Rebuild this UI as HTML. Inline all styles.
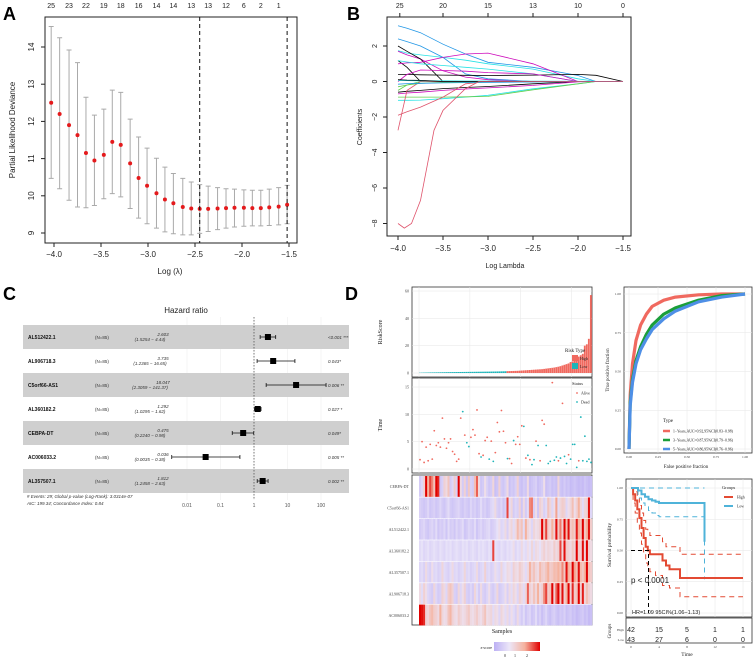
<!DOCTYPE html>
<html><head><meta charset="utf-8"><style>
html,body{margin:0;padding:0;background:#fff;}
svg{display:block;font-family:"Liberation Sans",sans-serif;}
.serif{font-family:"Liberation Serif",serif;}
</style></head><body>
<svg id="fig" width="753" height="659" viewBox="0 0 753 659" xmlns="http://www.w3.org/2000/svg">
<rect width="753" height="659" fill="#fff"/>
<g id="gA"></g>
<g id="gB"></g>
<g id="gC"></g>
<g id="gD"></g>
</svg>
<script>
// ---------- Panel A data ----------
const lambdaA=[-4.03,-3.94,-3.84,-3.75,-3.66,-3.57,-3.47,-3.38,-3.29,-3.19,-3.10,-3.01,-2.91,-2.82,-2.73,-2.63,-2.54,-2.45,-2.36,-2.26,-2.17,-2.08,-1.98,-1.89,-1.80,-1.71,-1.61,-1.52];
const devA=[12.5,12.2,11.9,11.63,11.15,10.95,11.1,11.45,11.37,10.87,10.48,10.27,10.07,9.9,9.8,9.7,9.66,9.65,9.65,9.66,9.67,9.68,9.68,9.67,9.67,9.69,9.71,9.76];
const upA=[14.55,14.25,13.92,13.58,12.65,12.17,12.33,12.84,12.78,12.06,11.58,11.28,11.01,10.77,10.6,10.47,10.37,10.3,10.26,10.22,10.19,10.18,10.16,10.15,10.15,10.18,10.22,10.28];
const loA=[10.47,10.19,9.88,9.7,9.68,9.74,9.92,10.06,9.97,9.66,9.4,9.25,9.13,9.03,8.98,8.95,8.95,8.99,9.04,9.09,9.13,9.16,9.18,9.19,9.19,9.2,9.22,9.25];
const topCountsA=[25,23,22,19,18,16,14,14,13,13,12,6,2,1];
const xTicksA=[-4.0,-3.5,-3.0,-2.5,-2.0,-1.5];
const yTicksA=[9,10,11,12,13,14];
const dashA=[-2.45,-1.52];
// ---------- Panel B data ----------
const gridB=[-4.0,-3.9,-3.75,-3.5,-3.25,-3.0,-2.5,-2.0,-1.8,-1.5];
const coefPaths=[
[3.14,3.0,2.75,2.1,1.55,1.08,0.8,0.34,0,0],
[2.4,2.25,2.0,1.36,0.43,0.15,0,0,0,0],
[1.74,1.6,1.5,1.36,1.2,1.0,0.7,0.15,0,0],
[1.7,1.5,1.27,0.6,0.25,0.1,0,0,0,0],
[2.0,1.7,1.27,0,0,0,0,0,0,0],
[1.18,0.8,0,0,0,0,0,0,0,0],
[1.0,1.05,1.08,1.36,1.55,1.6,1.0,0,0,0],
[1.18,1.1,1.0,0.9,0.8,0.7,0.43,0,0,0],
[0.4,0.4,0.38,0.36,0.35,0.34,0.36,0.4,0.35,0],
[0,0.4,0.65,0.62,0.58,0.5,0.43,0,0,0],
[-0.6,-0.55,-0.5,-0.4,-0.34,-0.28,-0.13,0,0,0],
[-0.7,-0.65,-0.6,-0.5,-0.42,-0.36,-0.22,-0.02,0,0],
[-0.5,-0.2,0,0,0,0,0,0,0,0],
[-1.06,-1.06,-1.05,-0.97,-0.88,-0.78,-0.41,-0.13,0,0],
[-0.88,-0.88,-0.88,-0.88,-0.86,-0.84,-0.47,-0.13,0,0],
[-1.9,-1.7,-1.44,-0.88,-0.13,0,0,0,0,0],
[-2.75,-0.5,0,0,0,0,0,0,0,0],
[-0.3,-0.2,-0.1,-0.05,-0.05,-0.04,-0.02,0,0,0],
[0.05,0.05,0.04,0.04,0.03,0.03,0.02,0.01,0,0],
[0.1,0.08,0.06,0,0,0,0,0,0,0],
[-0.15,-0.12,-0.1,-0.08,-0.06,-0.05,-0.03,0,0,0]];
const coefColors=['#2297e6','#2297e6','#28e2e5','#cd0bbc','#000','#000','#cd0bbc','#28e2e5','#000','#cd0bbc','#000','#cd0bbc','#61d04f','#28e2e5','#61d04f','#df536b','#df536b','#61d04f','#28e2e5','#000','#2297e6'];
const bigLambda=[-4.0,-3.93,-3.85,-3.75,-3.6,-3.5,-3.25,-3.1,-1.5];
const bigCoef=[-8.0,-8.26,-8.0,-6.7,-2.75,-1.63,-0.4,0,0];
const topCountsB=[25,20,15,13,10,0];
const topCountPosB=[-3.98,-3.5,-3.0,-2.5,-2.0,-1.5];
const yTicksB=[2,0,-2,-4,-6,-8];
// ---------- Panel C data ----------
const genesC=['AL512422.1','AL906718.3','C5orf66-AS1','AL360182.2','CEBPA-DT','AC006033.2','AL357507.1'];
const hrC=[2.603,3.735,18.047,1.292,0.475,0.036,1.812];
const hrLo=[1.5254,1.2365,2.3059,1.0295,0.2240,0.0035,1.2458];
const hrHi=[4.44,16.65,141.37,1.62,0.98,0.38,2.63];
const pC=['<0.001 ***','0.043*','0.006 **','0.027 *','0.049*','0.005 **','0.002 **'];
const xTicksC=[0.01,0.1,1,10,100];
// ---------- Panel D data ----------
const riskScore=[0.2,0.25,0.3,0.33,0.36,0.4,0.42,0.45,0.47,0.5,0.52,0.55,0.57,0.6,0.62,0.64,0.66,0.68,0.7,0.72,0.74,0.76,0.78,0.8,0.82,0.84,0.86,0.88,0.9,0.92,0.94,0.96,0.98,1.0,1.02,1.05,1.08,1.1,1.13,1.16,1.2,1.24,1.28,
1.35,1.4,1.45,1.5,1.55,1.6,1.7,1.8,1.9,2.0,2.1,2.2,2.3,2.4,2.5,2.6,2.7,2.8,3.0,3.2,3.4,3.6,3.8,4.0,4.3,4.6,5,5.5,6,6.5,7,8,8.5,9,10,12,13,14,20,21,25,57];
const survTime=[1.7,5,1.2,4,1.5,4.5,1.8,7,4.3,4.8,4,9.3,5.5,3.8,4.8,5.5,3.2,2.7,1.4,1.8,9.3,10.5,6.2,4.8,4.1,5.8,7.2,6.2,10.8,2.8,2.2,2.5,5.2,5.8,1.8,5.1,1.4,3,8.5,6.8,10.7,6.9,4.8,1.9,1.9,1,5.2,4.5,5.9,4.5,7.9,7.8,2,2.5,1.7,0.8,1.7,5.1,4.3,1.5,8.9,8.2,4.3,1,1.4,15.8,1.6,2.2,1.5,2,12,2.3,1,2.6,1.8,4.5,4.5,0.3,1.5,9.5,1.5,6,1.4,1.8,1.2];
const survStatus=[0,0,0,0,0,0,0,0,0,0,0,0,0,0,0,0,0,0,0,0,0,1,0,1,1,0,0,0,0,0,1,0,0,0,1,0,1,0,0,0,0,0,0,1,0,0,1,0,0,0,0,1,0,1,0,1,1,0,1,0,0,0,1,1,1,0,1,1,0,1,0,1,1,0,1,1,1,1,0,1,1,1,1,1,1];
const heatGenes=['CEBPA-DT','C5orf66-AS1','AL512422.1','AL360182.2','AL357507.1','AL906718.3','AC006033.2'];
const heatRows=[
[-0.5,-0.3,0.5,2.5,1.2,2,1.5,0.8,2.5,2.2,-0.6,-0.4,0.5,0.3,0.8,-0.5,-0.3,0.6,-0.4,2.5,0.3,-0.5,0.5,-0.6,0.7,-0.4,-0.5,0.9,1.8,0.3,-0.6,-0.5,0.2,-0.4,-0.6,-0.5,0.4,-0.7,-0.6,0.5,-0.5,-0.6,-0.4,0.3,-0.7,-0.5,-0.6,-0.4,0.5,-0.6,-0.7,-0.5,-0.6,0.3,-0.7,-0.6,-0.5,-0.4,-0.7,-0.6,-0.5,0.2,-0.7,-0.6,-0.5,-0.7,-0.6,-0.7,0.4,-0.6,-0.7,-0.5,-0.7,-0.6,-0.8,-0.7,-0.6,-0.7,-0.8,-0.7,-0.8,-0.6,-0.7,-0.8,-0.7],
[-0.4,-0.5,-0.6,-0.5,-0.3,-0.6,-0.5,-0.4,-0.6,-0.5,-0.3,-0.5,-0.6,-0.4,-0.2,-0.5,-0.6,-0.5,-0.4,-0.3,-0.5,-0.6,-0.4,-0.5,-0.6,-0.3,-0.5,-0.4,-0.6,-0.5,-0.2,-0.5,-0.4,-0.6,-0.5,-0.3,-0.2,0.3,-0.4,-0.5,-0.3,-0.6,-0.4,2.0,-0.2,0.4,-0.5,-0.3,-0.4,0.5,-0.6,0.3,-0.5,-0.2,1.5,1.6,-0.4,0.2,-0.6,0.5,0.3,-0.4,-0.2,0.8,0.4,-0.3,0.2,1.3,-0.2,0.4,0.6,0.5,-0.3,0.2,0.4,0.9,0.2,0.5,1.2,0.4,-0.2,0.4,0.5,2.4,-0.3],
[-0.5,-0.4,-0.3,-0.5,-0.6,-0.4,-0.3,-0.5,-0.2,-0.6,-0.4,-0.5,-0.3,-0.6,-0.2,-0.5,-0.4,-0.6,-0.3,-0.5,-0.4,-0.2,-0.6,-0.5,-0.3,-0.4,-0.5,-0.2,-0.6,-0.4,-0.3,-0.5,-0.4,-0.3,-0.2,-0.5,-0.4,-0.3,-0.1,0.2,-0.3,-0.2,0.3,-0.4,0.2,0.4,-0.2,0.3,1.0,0.5,0.8,-0.2,1.2,0.4,0.2,-0.3,0.4,0.2,0.3,0.5,2.5,0.8,2.0,0.6,0.4,1.2,0.5,2.4,0.7,1.6,0.5,2.5,1.0,2.4,0.6,0.9,0.6,2.3,1.2,0.8,2.5,0.7,1.2,2.4,0.6],
[-0.2,-0.1,-0.3,-0.2,-0.1,-0.3,-0.2,-0.1,-0.2,-0.3,-0.1,-0.2,-0.3,-0.1,-0.2,-0.1,-0.3,-0.2,-0.1,-0.2,-0.3,-0.1,-0.2,-0.1,-0.3,-0.2,-0.1,-0.2,-0.3,-0.1,-0.2,-0.1,-0.2,-0.3,-0.1,-0.2,2.0,-0.1,-0.2,-0.3,-0.1,-0.2,-0.3,-0.1,-0.2,-0.1,0.2,-0.3,-0.1,-0.2,0.3,-0.1,-0.2,0.2,-0.1,0.4,-0.2,0.3,0.2,-0.1,0.3,0.5,0.2,0.4,0.3,0.2,0.6,0.3,0.5,2.0,0.4,2.4,0.6,0.5,0.3,0.7,0.4,2.5,0.6,0.5,2.4,0.4,2.5,0.5,0.3],
[-0.3,-0.2,-0.4,0.3,-0.3,-0.4,0.2,-0.3,-0.2,-0.4,-0.3,0.4,-0.2,-0.3,-0.4,-0.2,0.3,-0.3,-0.2,-0.4,-0.3,-0.2,0.4,-0.3,-0.2,-0.4,-0.3,-0.2,0.3,-0.4,-0.3,-0.2,0.5,-0.3,-0.2,-0.4,-0.3,0.2,-0.2,-0.3,0.4,-0.2,-0.1,0.3,0.2,-0.2,0.5,0.3,0.2,0.6,0.4,0.2,-0.2,0.3,1.2,0.5,0.8,0.4,0.3,1.0,0.6,0.5,0.8,1.2,0.6,0.7,1.0,0.9,1.2,0.8,1.5,0.7,2.4,1.2,0.8,2.5,1.3,0.9,2.4,1.0,0.7,1.2,2.5,0.8,0.6],
[0.3,-0.2,0.5,0.2,-0.3,-0.4,-0.5,0.4,-0.3,-0.5,-0.4,0.5,0.3,-0.3,0.6,0.8,0.5,-0.4,-0.5,0.4,-0.3,0.2,0.5,-0.4,-0.5,-0.3,-0.5,0.4,-0.2,-0.5,0.3,-0.4,-0.5,-0.3,0.2,-0.4,-0.5,-0.3,0.4,-0.5,-0.4,-0.3,0.2,-0.4,0.3,-0.2,0.4,0.2,-0.3,0.5,0.3,-0.2,0.4,1.8,0.5,0.3,0.8,0.4,1.2,0.3,0.5,1.5,2.0,0.6,0.8,2.5,0.5,1.8,2.5,0.7,2.4,0.5,1.2,2.5,0.4,2.2,0.6,0.8,2.5,0.5,2.3,0.4,0.9,0.5,0.3],
[2.5,2.4,2.2,0.5,0.4,0.8,1.0,0.6,0.5,0.3,1.2,0.4,0.2,0.3,0.8,1.1,0.5,0.3,0.2,0.6,0.4,0.2,0.3,0.5,0.7,0.3,0.2,0.4,0.6,0.3,0.2,0.5,0.8,0.2,0.3,0.4,-0.2,0.3,0.2,-0.3,0.4,0.2,-0.2,0.3,-0.3,0.2,-0.2,-0.4,0.3,-0.3,-0.5,-0.2,-0.6,-0.4,-0.3,-0.6,-0.5,-0.2,-0.6,-0.4,-0.7,-0.5,-0.3,-0.6,-0.7,-0.5,-0.4,-0.6,-0.7,-0.5,-0.6,-0.4,-0.7,-0.6,-0.5,-0.7,-0.6,-0.8,-0.7,-0.6,-0.5,-0.7,-0.6,-0.8,-0.7]];
const rocFpr=[0,0.01,0.03,0.06,0.1,0.15,0.2,0.3,0.4,0.6,0.8,1];
const roc1=[0,0.35,0.55,0.7,0.8,0.87,0.92,0.96,0.98,0.995,1,1];
const roc3=[0,0.3,0.45,0.57,0.66,0.74,0.8,0.87,0.91,0.96,0.99,1];
const roc5=[0,0.28,0.43,0.55,0.64,0.71,0.77,0.84,0.89,0.95,0.98,1];
const rocLabels=['1\u2212Years,AUC=0.92,95%CI(0.83\u22120.98)','3\u2212Years,AUC=0.87,95%CI(0.79\u22120.96)','5\u2212Years,AUC=0.86,95%CI(0.76\u22120.96)'];
const rocTicks=[0,0.25,0.5,0.75,1];
const kmHighT=[0,0.3,0.6,0.9,1.2,1.5,1.8,2.1,2.4,2.7,3.5,4.5,5,5.5,7,16];
const kmHighS=[1,0.95,0.9,0.83,0.76,0.68,0.6,0.53,0.5,0.47,0.47,0.42,0.38,0.35,0.28,0.28];
const kmHighU=[1,1,0.97,0.92,0.86,0.8,0.74,0.67,0.65,0.62,0.62,0.57,0.53,0.53,0.47,0.47];
const kmHighL=[1,0.88,0.8,0.72,0.64,0.55,0.47,0.4,0.37,0.33,0.3,0.22,0.22,0.2,0.13,0.13];
const kmLowT=[0,1,1.5,2,2.5,3,3.5,4,10.5];
const kmLowS=[1,0.98,0.95,0.93,0.91,0.9,0.89,0.88,0.57];
const kmLowU=[1,1,1,1,1,1,1,1,1];
const kmLowL=[1,0.92,0.88,0.85,0.82,0.8,0.78,0.77,0.27];
const kmTicks=[0,4,8,12,16];
const atRiskHigh=[42,15,5,1,1];
const atRiskLow=[43,27,6,0,0];

// ---------- helpers ----------
const NS='http://www.w3.org/2000/svg';
function lin(d0,d1,r0,r1){return v=>r0+(v-d0)*(r1-r0)/(d1-d0);}
function mk(parent,tag,attrs,txt){const e=document.createElementNS(NS,tag);for(const k in attrs)e.setAttribute(k,attrs[k]);if(txt!==undefined)e.textContent=txt;parent.appendChild(e);return e;}
function txt(p,x,y,s,size,o){o=o||{};const a={x:x,y:y,'font-size':size,fill:o.fill||'#222','text-anchor':o.anchor||'middle'};if(o.rot)a.transform='rotate('+o.rot+' '+x+' '+y+')';if(o.weight)a['font-weight']=o.weight;if(o.style)a['font-style']=o.style;if(o.cls)a['class']=o.cls;return mk(p,'text',a,s);}
function poly(pts){return pts.map((p,i)=>(i?'L':'M')+p[0].toFixed(1)+' '+p[1].toFixed(1)).join(' ');}
function stepPath(ts,ss,X,Y){let d='M'+X(ts[0])+' '+Y(ss[0]);for(let i=1;i<ts.length;i++){d+=' L'+X(ts[i])+' '+Y(ss[i-1])+' L'+X(ts[i])+' '+Y(ss[i]);}return d;}

// ---------- Panel A ----------
(function(){
const g=document.getElementById('gA');
const X=lin(-4,-1.5,54,289),Y=lin(9,14,233,47);
let e=txt(g,3,20,'A',18,{anchor:'start',weight:'bold',fill:'#000'});

e=mk(g,'rect',{x:45,y:17,width:252,height:226,fill:'none',stroke:'#222','stroke-width':1});

xTicksA.forEach(v=>{mk(g,'line',{x1:X(v),x2:X(v),y1:243,y2:247,stroke:'#222'});const t=txt(g,X(v),257,v.toFixed(1).replace('-','\u2212'),8);});
yTicksA.forEach(v=>{mk(g,'line',{x1:41,x2:45,y1:Y(v),y2:Y(v),stroke:'#222'});const t=txt(g,34,Y(v),String(v),8,{rot:-90});});
e=txt(g,15,130,'Partial Likelihood Deviance',8,{rot:-90});
e=txt(g,170,274,'Log (\u03bb)',8);
lambdaA.forEach((l,i)=>{const x=X(l);
 const b=mk(g,'path',{d:'M'+x+' '+Y(upA[i])+' L'+x+' '+Y(loA[i])+' M'+(x-2.5)+' '+Y(upA[i])+' L'+(x+2.5)+' '+Y(upA[i])+' M'+(x-2.5)+' '+Y(loA[i])+' L'+(x+2.5)+' '+Y(loA[i]),stroke:'#aaa','stroke-width':1,fill:'none'});
 
 const c=mk(g,'circle',{cx:x,cy:Y(devA[i]),r:2,fill:'#e41a1c'});
 
 if(i%2===0&&topCountsA[i/2]!==undefined){const t=txt(g,x,8,String(topCountsA[i/2]),7);}
});
dashA.forEach(v=>{const d=mk(g,'line',{x1:X(v),x2:X(v),y1:17,y2:243,stroke:'#111','stroke-dasharray':'4,3','stroke-width':1});});
})();

// ---------- Panel B ----------
(function(){
const g=document.getElementById('gB');
const X=lin(-4,-1.5,398,623),Y=lin(0,2,81.5,46);
let e=txt(g,347,20,'B',18,{anchor:'start',weight:'bold',fill:'#000'});

e=mk(g,'rect',{x:387,y:17,width:244,height:219,fill:'none',stroke:'#222'});

xTicksA.forEach(v=>{mk(g,'line',{x1:X(v),x2:X(v),y1:236,y2:240,stroke:'#222'});const t=txt(g,X(v),251,v.toFixed(1).replace('-','\u2212'),8);});
yTicksB.forEach(v=>{mk(g,'line',{x1:383,x2:387,y1:Y(v),y2:Y(v),stroke:'#222'});const t=txt(g,377,Y(v),String(v).replace('-','\u2212'),7,{rot:-90});});
topCountsB.forEach((c,i)=>{mk(g,'line',{x1:X(topCountPosB[i]),x2:X(topCountPosB[i]),y1:13,y2:17,stroke:'#222'});const t=txt(g,X(topCountPosB[i]),8,String(c),7);});
e=txt(g,505,268,'Log Lambda',7);
e=txt(g,362,127,'Coefficients',7,{rot:-90});
coefPaths.forEach((vals,k)=>{const p=mk(g,'path',{d:poly(vals.map((v,i)=>[X(gridB[i]),Y(v)])),stroke:coefColors[k],fill:'none','stroke-width':0.8});});
const bp=mk(g,'path',{d:poly(bigCoef.map((v,i)=>[X(bigLambda[i]),Y(v)])),stroke:'#df536b',fill:'none','stroke-width':0.8});

})();

// ---------- Panel C ----------
(function(){
const g=document.getElementById('gC');
const X=v=>254+33.5*Math.log10(v);
let e=txt(g,3,300,'C',18,{anchor:'start',weight:'bold',fill:'#000'});

e=txt(g,186,313,'Hazard ratio',8);
xTicksC.forEach(v=>{mk(g,'line',{x1:X(v),x2:X(v),y1:317,y2:500,stroke:'#eee','stroke-width':0.6});const t=txt(g,X(v),507,String(v),5,{fill:'#555'});});
genesC.forEach((gn,i)=>{const y0=325+i*24,yc=y0+12;
 if(i%2===0){const r=mk(g,'rect',{x:23,y:y0,width:326,height:24,fill:'#cfcfcf'});}
 let t=txt(g,28,yc+2,gn,5,{anchor:'start',weight:'bold',fill:'#111'});
 t=txt(g,95,yc+2,'(N=85)',4.5,{anchor:'start',fill:'#333'});
 t=txt(g,163,yc-1,hrC[i].toFixed(3),4.5,{fill:'#333',style:'italic'});
 t=txt(g,150,yc+4,'('+hrLo[i].toFixed(4)+' \u2212 '+hrHi[i]+')',4.5,{fill:'#333',style:'italic'});
 const l=mk(g,'path',{d:'M'+X(hrLo[i])+' '+yc+' L'+X(hrHi[i])+' '+yc+' M'+X(hrLo[i])+' '+(yc-2)+' L'+X(hrLo[i])+' '+(yc+2)+' M'+X(hrHi[i])+' '+(yc-2)+' L'+X(hrHi[i])+' '+(yc+2),stroke:'#111','stroke-width':0.8,fill:'none'});
 
 const s=mk(g,'rect',{x:X(hrC[i])-3,y:yc-3,width:6,height:6,fill:'#000'});
 t=txt(g,328,yc+2,pC[i],4.5,{anchor:'start',fill:'#333',style:'italic'});
});
e=mk(g,'line',{x1:X(1),x2:X(1),y1:317,y2:500,stroke:'#444','stroke-dasharray':'1.5,1.5','stroke-width':0.7});

e=txt(g,27,498,'# Events: 29; Global p-value (Log-Rank): 3.0314e-07',4.5,{anchor:'start',style:'italic',fill:'#333'});
e=txt(g,27,505,'AIC: 199.34; Concordance Index: 0.84',4.5,{anchor:'start',style:'italic',fill:'#333'});
})();

// ---------- Panel D ----------
(function(){
const g=document.getElementById('gD');
const XS=lin(0,85,419,592);
let e=txt(g,345,300,'D',18,{anchor:'start',weight:'bold',fill:'#000'});

function frame(x,y,w,h,name){const r=mk(g,'rect',{x:x,y:y,width:w,height:h,fill:'#fff',stroke:'#333','stroke-width':0.8});}
function gridLines(x0,x1,y0,y1,xs,ys){xs.forEach(x=>mk(g,'line',{x1:x,x2:x,y1:y0,y2:y1,stroke:'#e6e6e6','stroke-width':0.5}));ys.forEach(y=>mk(g,'line',{x1:x0,x2:x1,y1:y,y2:y,stroke:'#e6e6e6','stroke-width':0.5}));}
frame(412,287,180,90,'risk-score-frame');
const YR=lin(0,60,373,291);
gridLines(412,592,287,377,[0,25,50,75].map(XS),[0,20,40,60].map(YR));
riskScore.forEach((v,i)=>{const r=mk(g,'rect',{x:XS(i),y:YR(v),width:(XS(1)-XS(0))*0.9,height:YR(0)-YR(v),fill:i<43?'#1fb5b9':'#f0695f'});});
[0,20,40,60].forEach(v=>{const t=txt(g,409,YR(v)+1.5,String(v),4,{anchor:'end',fill:'#444',cls:'serif'});});
e=txt(g,382,332,'RiskScore',6,{rot:-90,cls:'serif'});
e=txt(g,565,352,'Risk Type',5,{anchor:'start',cls:'serif'});
mk(g,'rect',{x:572,y:355,width:6,height:6,fill:'#f0695f'});mk(g,'rect',{x:572,y:363,width:6,height:6,fill:'#1fb5b9'});
e=txt(g,580,360,'High',4,{anchor:'start',cls:'serif'});
e=txt(g,580,368,'Low',4,{anchor:'start',cls:'serif'});
frame(412,378,180,95,'time-frame');
const YT=lin(0,15,469,387);
gridLines(412,592,378,473,[0,25,50,75].map(XS),[0,5,10,15].map(YT));
survTime.forEach((v,i)=>{const c=mk(g,'circle',{cx:XS(i+0.5),cy:YT(v),r:0.9,fill:survStatus[i]?'#1fb5b9':'#f0695f'});});
[0,5,10,15].forEach(v=>{const t=txt(g,409,YT(v)+1.5,String(v),4,{anchor:'end',fill:'#444',cls:'serif'});});
e=txt(g,382,425,'Time',6,{rot:-90,cls:'serif'});
e=txt(g,572,385,'Status',4.5,{anchor:'start',cls:'serif'});
mk(g,'circle',{cx:577,cy:393,r:0.9,fill:'#f0695f'});mk(g,'circle',{cx:577,cy:402,r:0.9,fill:'#1fb5b9'});
e=txt(g,581,394.5,'Alive',4,{anchor:'start',cls:'serif'});
e=txt(g,581,403.5,'Dead',4,{anchor:'start',cls:'serif'});
frame(412,475,180,150,'heatmap-frame');
function zcol(z){const stops=[[-1,[188,176,244]],[0,[236,230,248]],[1.2,[245,178,158]],[2.5,[224,0,0]]];z=Math.max(-1,Math.min(2.5,z));for(let k=1;k<stops.length;k++){if(z<=stops[k][0]){const a=stops[k-1],b=stops[k],t=(z-a[0])/(b[0]-a[0]);return 'rgb('+a[1].map((c,j)=>Math.round(c+(b[1][j]-c)*t)).join(',')+')';}}return 'rgb(224,0,0)';}
const rh=150/heatGenes.length;
heatRows.forEach((row,r)=>{row.forEach((z,i)=>{const c=mk(g,'rect',{x:XS(i),y:476+r*rh,width:XS(1)-XS(0)+0.3,height:rh-0.6,fill:zcol(z)});});
 const t=txt(g,409,476+r*rh+rh/2+1.5,heatGenes[r],4,{anchor:'end',fill:'#444',cls:'serif'});});
e=txt(g,502,633,'Samples',6,{cls:'serif'});
const grad=mk(g,'defs',{});const lg=mk(grad,'linearGradient',{id:'zg',x1:0,x2:1,y1:0,y2:0});
[-1,0,1.2,2.5].forEach((z,k)=>mk(lg,'stop',{offset:(k/3),'stop-color':zcol(z)}));
e=mk(g,'rect',{x:494,y:642,width:46,height:9,fill:'url(#zg)'});
e=txt(g,492,649,'z-score',4,{anchor:'end',cls:'serif'});
[[0,505],[1,515],[2,527]].forEach(p=>{const t=txt(g,p[1],657,String(p[0]),4,{cls:'serif'});});
frame(624,287,128,166,'roc-frame');
const XF=lin(0,1,629,745),YF=lin(0,1,449,294);
gridLines(624,752,287,453,rocTicks.map(XF),rocTicks.map(YF));
[[roc1,'#f0695f'],[roc3,'#1a9e3a'],[roc5,'#4e8fe6']].forEach((s,k)=>{const p=mk(g,'path',{d:poly(rocFpr.map((f,i)=>[XF(f),YF(s[0][i])])),stroke:s[1],'stroke-width':3.2,fill:'none','stroke-linejoin':'round'});});
rocTicks.forEach(v=>{let t=txt(g,XF(v),458,v.toFixed(2),3.5,{fill:'#444',cls:'serif'});
 t=txt(g,621,YF(v)+1,v.toFixed(2),3.5,{anchor:'end',fill:'#444',cls:'serif'});});
e=txt(g,686,468,'False positive fraction',5,{cls:'serif'});
e=txt(g,609,370,'True positive fraction',5,{rot:-90,cls:'serif'});
e=txt(g,663,422,'Type',5,{anchor:'start',cls:'serif'});
['#f0695f','#1a9e3a','#4e8fe6'].forEach((c,k)=>{mk(g,'line',{x1:663,x2:670,y1:431+k*9,y2:431+k*9,stroke:c,'stroke-width':2.5});const t=txt(g,673,432.5+k*9,rocLabels[k],3.8,{anchor:'start',cls:'serif'});});
frame(626,479,126,138,'km-frame');
const XK=lin(0,16,631,743),YK=lin(0,1,613,488);
gridLines(626,752,479,617,kmTicks.map(XK),[0,0.25,0.5,0.75,1].map(YK));
function dashStep(ts,ss,col,name){const p=mk(g,'path',{d:stepPath(ts,ss,XK,YK),stroke:col,'stroke-width':1,'stroke-dasharray':'5,4',fill:'none'});}
dashStep(kmHighT,kmHighU,'#e34a33','km-high-ci-upper');dashStep(kmHighT,kmHighL,'#e34a33','km-high-ci-lower');
dashStep(kmLowT,kmLowU,'#4fb3d9','km-low-ci-upper');dashStep(kmLowT,kmLowL,'#4fb3d9','km-low-ci-lower');
e=mk(g,'path',{d:stepPath(kmHighT,kmHighS,XK,YK),stroke:'#e34a33','stroke-width':2,fill:'none'});
e=mk(g,'path',{d:stepPath(kmLowT,kmLowS,XK,YK),stroke:'#4fb3d9','stroke-width':2,fill:'none'});
e=mk(g,'path',{d:'M'+XK(0)+' '+YK(0.5)+' L'+XK(2.5)+' '+YK(0.5)+' L'+XK(2.5)+' '+YK(0),stroke:'#000','stroke-width':1,'stroke-dasharray':'4,3',fill:'none'});
[0,0.25,0.5,0.75,1].forEach(v=>{const t=txt(g,623,YK(v)+1,v.toFixed(2),3.5,{anchor:'end',fill:'#444',cls:'serif'});});
e=txt(g,611,545,'Survival probability',5.5,{rot:-90,cls:'serif'});
e=txt(g,631,583,'p < 0.0001',8,{anchor:'start'});
e=txt(g,632,614,'HR=1.09 95CI%(1.06\u22121.13)',5.5,{anchor:'start'});
e=txt(g,722,489,'Groups',4.5,{anchor:'start',cls:'serif'});
mk(g,'line',{x1:724,x2:733,y1:497,y2:497,stroke:'#e34a33','stroke-width':2});mk(g,'line',{x1:724,x2:733,y1:506,y2:506,stroke:'#4fb3d9','stroke-width':2});
e=txt(g,737,498.5,'High',3.8,{anchor:'start',cls:'serif'});
e=txt(g,737,507.5,'Low',3.8,{anchor:'start',cls:'serif'});
frame(626,618,126,25,'risk-table-frame');
kmTicks.forEach((t,i)=>{let a=txt(g,XK(t),632,String(atRiskHigh[i]),7);
 a=txt(g,XK(t),642,String(atRiskLow[i]),7);
 a=txt(g,XK(t),648,String(t),3.5,{fill:'#444',cls:'serif'});});
e=txt(g,624,631,'High',3.5,{anchor:'end',fill:'#444',cls:'serif'});
e=txt(g,624,641,'Low',3.5,{anchor:'end',fill:'#444',cls:'serif'});
e=txt(g,611,631,'Groups',5,{rot:-90,cls:'serif'});
e=txt(g,687,656,'Time',5.5,{cls:'serif'});
})();
</script>
</body></html>
